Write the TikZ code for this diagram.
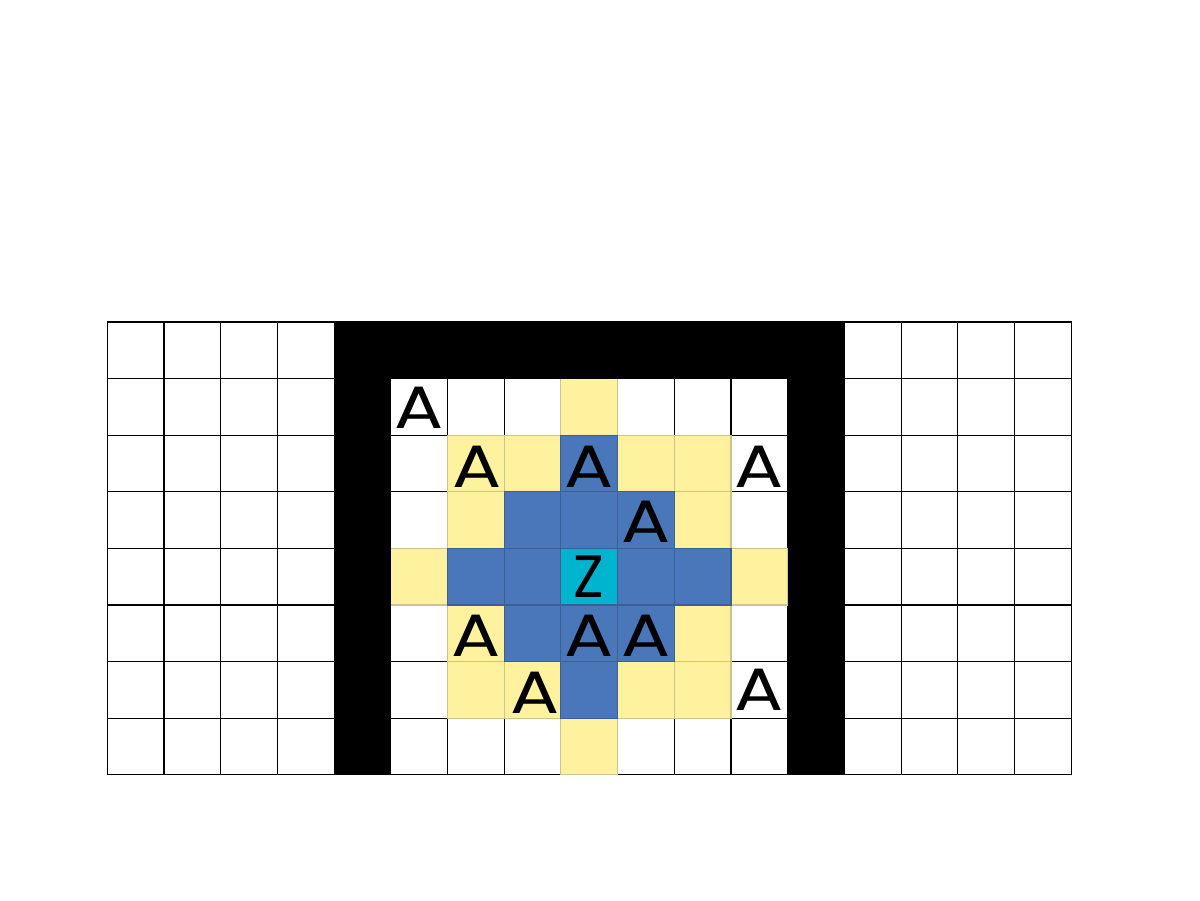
\documentclass[tikz,border=0pt]{standalone}
\usepackage{fontspec}
\newfontfamily\lettfont{Poppins}
\definecolor{cyel}{RGB}{255,242,158}
\definecolor{cyelb}{RGB}{205,195,140}
\definecolor{cblu}{RGB}{74,118,186}
\definecolor{cblub}{RGB}{60,95,150}
\definecolor{ccya}{RGB}{0,180,208}
\begin{document}
\begin{tikzpicture}[x=0.02cm,y=-0.02cm,
  cellw/.style={draw=black,line width=0.6pt,fill=white},
  celly/.style={draw=cyelb,line width=0.6pt,fill=cyel},
  cellb/.style={draw=cblub,line width=0.6pt,fill=cblu},
  cellc/.style={draw=cblub,line width=0.6pt,fill=ccya},
  wall/.style={fill=black,draw=none},
  lett/.style={font=\lettfont\fontsize{34}{34}\selectfont,inner sep=0pt,text=black,xscale=1.22},
  lettz/.style={font=\lettfont\fontsize{34}{34}\selectfont,inner sep=0pt,text=black,xscale=0.95}]
\useasboundingbox (0,0) rectangle (1200,900);
\def\cw{56.7}
\def\ch{56.6}
\def\xo{107.3}
\def\yo{322}
% all cells white
\foreach \c in {0,...,16}{
  \foreach \r in {0,...,7}{
    \draw[cellw] (\xo+\c*\cw,\yo+\r*\ch) rectangle ++(\cw,\ch);
  }
}
% yellow cells
\foreach \c/\r in {8/1,6/2,7/2,9/2,10/2,6/3,10/3,5/4,11/4,6/5,10/5,6/6,7/6,9/6,10/6,8/7}{
  \draw[celly] (\xo+\c*\cw,\yo+\r*\ch) rectangle ++(\cw,\ch);
}
% blue cells
\foreach \c/\r in {8/2,7/3,8/3,9/3,6/4,7/4,9/4,10/4,7/5,8/5,9/5,8/6}{
  \draw[cellb] (\xo+\c*\cw,\yo+\r*\ch) rectangle ++(\cw,\ch);
}
% cyan cell
\draw[cellc] (\xo+8*\cw,\yo+4*\ch) rectangle ++(\cw,\ch);
% walls
\fill[wall] (\xo+4*\cw,\yo) rectangle (\xo+13*\cw,\yo+\ch);
\fill[wall] (\xo+4*\cw,\yo) rectangle (\xo+5*\cw,\yo+8*\ch);
\fill[wall] (\xo+12*\cw,\yo) rectangle (\xo+13*\cw,\yo+8*\ch);
% letters
\foreach \c/\r/\t/\n/\dx/\dy in {5/1/A/a1/0/1,6/2/A/a2/1/3,8/2/A/a3/0/3,11/2/A/a4/0/3,9/3/A/a5/0/2,6/5/A/a6/0/2,8/5/A/a7/0/2,9/5/A/a8/0/2,7/6/A/a9/3/3,11/6/A/a10/0/0}{
  \node[lett] (\n) at (\xo+\c*\cw+0.5*\cw+\dx,\yo+\r*\ch+0.5*\ch+\dy) {\t};
}
\node[lettz] (z1) at (\xo+8.5*\cw,\yo+4.5*\ch) {Z};
\end{tikzpicture}
\end{document}
